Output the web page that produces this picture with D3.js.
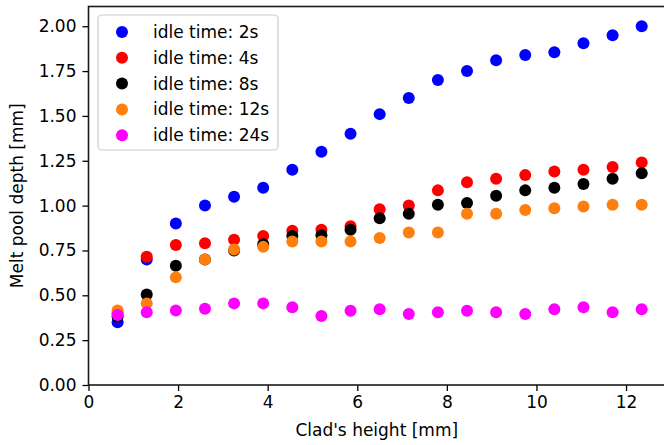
<!DOCTYPE html>
<html lang="en">
<head>
    <meta charset="UTF-8">
    <title>Melt pool depth</title>
    <style>
        body { margin: 0; background: #fff; }
        text { font-family: "DejaVu Sans", sans-serif; fill: #000; }
    </style>
</head>
<body>
    <svg width="664" height="445"></svg>

    <script src="https://d3js.org/d3.v7.min.js"></script>
    <script>
        // clad height [mm]
        var heights = [0.65, 1.3, 1.95, 2.6, 3.25, 3.9, 4.55, 5.2, 5.85, 6.5,
                       7.15, 7.8, 8.45, 9.1, 9.75, 10.4, 11.05, 11.7, 12.35];

        // melt pool depth [mm] per idle time
        var idle2  = [0.35, 0.70, 0.90, 1.00, 1.05, 1.10, 1.20, 1.30, 1.40, 1.51,
                      1.60, 1.70, 1.75, 1.81, 1.84, 1.855, 1.905, 1.95, 2.00];
        var idle4  = [0.40, 0.715, 0.78, 0.79, 0.81, 0.83, 0.86, 0.865, 0.885, 0.98,
                      1.00, 1.085, 1.13, 1.15, 1.17, 1.19, 1.20, 1.215, 1.24];
        var idle8  = [0.38, 0.505, 0.665, 0.70, 0.75, 0.785, 0.83, 0.835, 0.865, 0.93,
                      0.955, 1.005, 1.015, 1.055, 1.085, 1.10, 1.12, 1.15, 1.18];
        var idle12 = [0.415, 0.455, 0.60, 0.70, 0.755, 0.77, 0.80, 0.80, 0.80, 0.82,
                      0.85, 0.85, 0.955, 0.955, 0.975, 0.985, 0.995, 1.005, 1.005];
        var idle24 = [0.39, 0.405, 0.415, 0.425, 0.455, 0.455, 0.433, 0.385, 0.414, 0.422,
                      0.396, 0.405, 0.414, 0.405, 0.396, 0.422, 0.433, 0.405, 0.422];

        var seriesNames = ['idle time: 2s', 'idle time: 4s', 'idle time: 8s', 'idle time: 12s', 'idle time: 24s'];
        var seriesValues = [idle2, idle4, idle8, idle12, idle24];
        var colors = ['#0000ff', '#ff0000', '#000000', '#ff7f0e', '#ff00ff'];

        var xTicks = [0, 2, 4, 6, 8, 10, 12];
        var yTicks = [0, 0.25, 0.5, 0.75, 1.0, 1.25, 1.5, 1.75, 2.0];

        var svg = d3.select('svg');

        // plot box (note: "top" is a reserved window prop, so use other names)
        var plotL = 88.5, plotR = 665, plotT = 6.5, plotB = 385;
        var fs = 17;

        var x = d3.scaleLinear().domain([0, 12.87]).range([plotL, plotR]);
        var y = d3.scaleLinear().domain([0, 2.11]).range([plotB, plotT]);

        // points, drawn in series order so later ones sit on top
        seriesValues.forEach(function(vals, k) {
            svg.append('g')
                .selectAll('circle')
                .data(vals)
                .enter().append('circle')
                .attr('cx', function(d, i) { return x(heights[i]); })
                .attr('cy', function(d) { return y(d); })
                .attr('r', 6)
                .attr('fill', colors[k]);
        });

        // axes
        var xAxis = svg.append('g')
            .attr('transform', 'translate(0,' + plotB + ')')
            .call(d3.axisBottom(x).tickValues(xTicks).tickFormat(d3.format('d')).tickSize(6).tickPadding(5));

        var yAxis = svg.append('g')
            .attr('transform', 'translate(' + plotL + ',0)')
            .call(d3.axisLeft(y).tickValues(yTicks).tickFormat(d3.format('.2f')).tickSize(6).tickPadding(6));

        [xAxis, yAxis].forEach(function(ax) {
            ax.select('.domain').remove();
            ax.selectAll('line').attr('stroke', '#000').attr('stroke-width', 1.3);
            ax.selectAll('text').attr('font-size', fs).attr('font-family', '"DejaVu Sans", sans-serif');
        });

        // frame
        svg.append('rect')
            .attr('x', plotL).attr('y', plotT)
            .attr('width', plotR - plotL).attr('height', plotB - plotT)
            .attr('fill', 'none')
            .attr('stroke', '#1a1a1a')
            .attr('stroke-width', 1.6);

        // axis labels
        svg.append('text')
            .attr('x', (plotL + plotR) / 2)
            .attr('y', 436)
            .attr('text-anchor', 'middle')
            .attr('font-size', fs)
            .text("Clad's height [mm]");

        svg.append('text')
            .attr('transform', 'translate(23,' + (plotT + plotB) / 2 + ') rotate(-90)')
            .attr('text-anchor', 'middle')
            .attr('font-size', fs)
            .text('Melt pool depth [mm]');

        // legend
        var legend = svg.append('g');
        legend.append('rect')
            .attr('x', 98).attr('y', 15)
            .attr('width', 180).attr('height', 135)
            .attr('rx', 4)
            .attr('fill', '#fff')
            .attr('fill-opacity', 0.8)
            .attr('stroke', '#cccccc')
            .attr('stroke-width', 1.2);

        seriesNames.forEach(function(name, k) {
            var ly = 32 + k * 25.8;
            legend.append('circle')
                .attr('cx', 122).attr('cy', ly)
                .attr('r', 6)
                .attr('fill', colors[k]);
            legend.append('text')
                .attr('x', 153).attr('y', ly)
                .attr('dy', '0.35em')
                .attr('font-size', fs)
                .text(name);
        });
    </script>
</body>
</html>
